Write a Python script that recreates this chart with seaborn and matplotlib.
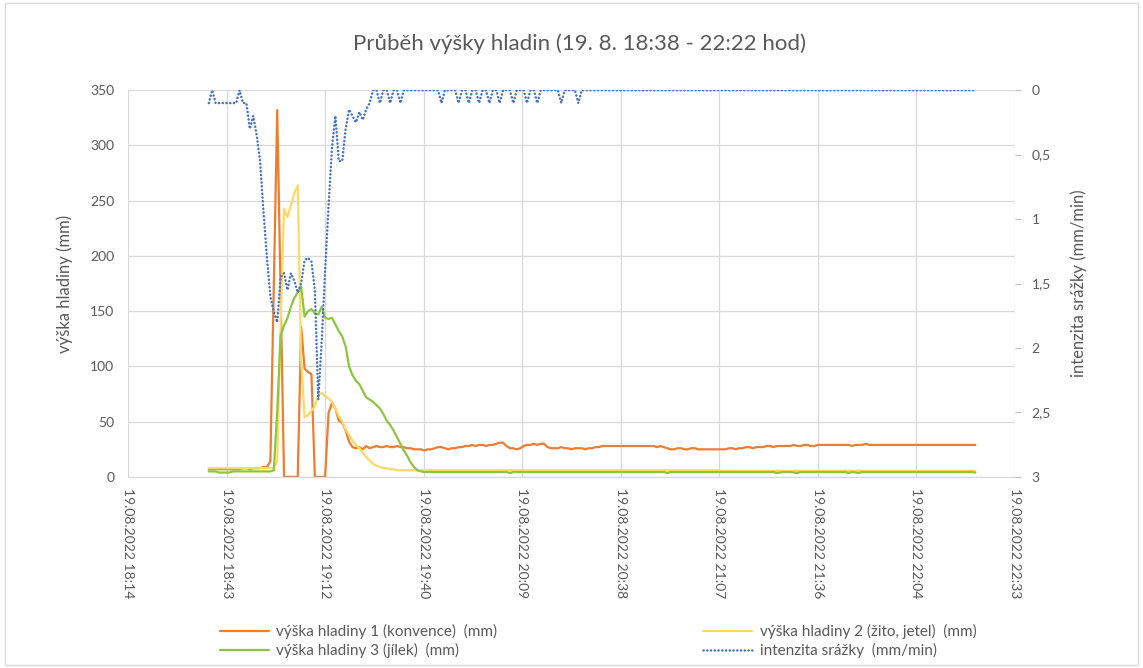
import matplotlib
matplotlib.use("Agg")
import matplotlib.pyplot as plt
from matplotlib.patches import Rectangle
import seaborn as sns
import pandas as pd

START = "2022-08-19 18:38"  # one reading per minute from here

# výška hladiny 1 (konvence), mm
level_1 = [
    7, 7, 7, 7, 7, 7, 7, 7, 7, 7, 8, 8, 7, 8, 8,
    8, 9, 9, 14, 172, 332, 165, 0, 0, 0, 0, 0, 136, 98, 95,
    93, 0, 0, 0, 0, 58, 67, 62, 51, 49, 42, 32, 27, 26, 27,
    25, 28, 26, 27, 28, 27, 27, 28, 27, 27, 28, 27, 27, 26, 26,
    25, 25, 25, 24, 25, 25, 26, 27, 27, 26, 25, 26, 26, 27, 27,
    28, 28, 29, 28, 29, 29, 28, 29, 29, 30, 31, 31, 28, 26, 26,
    25, 26, 28, 29, 29, 30, 29, 30, 30, 27, 26, 26, 26, 27, 26,
    26, 25, 26, 26, 26, 25, 26, 26, 27, 27, 28, 28, 28, 28, 28,
    28, 28, 28, 28, 28, 28, 28, 28, 28, 28, 28, 27, 28, 27, 26,
    25, 25, 26, 26, 25, 25, 26, 26, 25, 25, 25, 25, 25, 25, 25,
    25, 25, 26, 26, 25, 26, 26, 27, 27, 26, 27, 27, 27, 28, 28,
    27, 28, 28, 28, 28, 28, 29, 28, 28, 29, 29, 28, 28, 29, 29,
    29, 29, 29, 29, 29, 29, 29, 29, 28, 29, 29, 29, 30, 29, 29,
    29, 29, 29, 29, 29, 29, 29, 29, 29, 29, 29, 29, 29, 29, 29,
    29, 29, 29, 29, 29, 29, 29, 29, 29, 29, 29, 29, 29, 29, 29,
]

# výška hladiny 2 (žito, jetel), mm
level_2 = [
    8, 8, 8, 8, 8, 8, 8, 8, 8, 8, 8, 8, 8, 8, 8,
    8, 8, 8, 8, 8, 14, 140, 243, 235, 246, 257, 264, 105, 54, 56,
    60, 64, 74, 76, 73, 71, 68, 62, 55, 50, 43, 38, 33, 29, 26,
    22, 18, 15, 12, 10, 9, 8, 8, 7, 7, 6, 6, 6, 6, 6,
    6, 6, 6, 6, 6, 6, 6, 6, 6, 6, 6, 6, 6, 6, 6,
    6, 6, 6, 6, 6, 6, 6, 6, 6, 6, 6, 6, 6, 6, 6,
    6, 6, 6, 6, 6, 6, 6, 6, 6, 6, 6, 6, 6, 6, 6,
    6, 6, 6, 6, 6, 6, 6, 6, 6, 6, 6, 6, 6, 6, 6,
    6, 6, 6, 6, 6, 6, 6, 6, 6, 6, 6, 6, 6, 6, 6,
    6, 6, 6, 6, 6, 6, 6, 6, 6, 6, 6, 6, 6, 6, 6,
    5.5, 5.5, 5.5, 5.5, 5.5, 5.5, 5.5, 5.5, 5.5, 5.5, 5.5, 5.5, 5.5, 5.5, 5.5,
    5.5, 5.5, 5.5, 5.5, 5.5, 5.5, 5.5, 5.5, 5.5, 5.5, 5.5, 5.5, 5.5, 5.5, 5.5,
    5.5, 5.5, 5.5, 5.5, 5.5, 5.5, 5.5, 5.5, 5.5, 5.5, 5.5, 5.5, 5.5, 5.5, 5.5,
    5.5, 5.5, 5.5, 5.5, 5.5, 5.5, 5.5, 5.5, 5.5, 5.5, 5.5, 5.5, 5.5, 5.5, 5.5,
    5.5, 5.5, 5.5, 5.5, 5.5, 5.5, 5.5, 5.5, 5.5, 5.5, 5.5, 5.5, 5.5, 5.5, 5.5,
]

# výška hladiny 3 (jílek), mm
level_3 = [
    5, 5, 5, 4, 4, 4, 4, 5, 5, 5, 5, 5, 5, 5, 5,
    5, 5, 5, 5, 6, 60, 128, 137, 144, 154, 162, 167, 172, 145, 150,
    152, 148, 147, 154, 144, 143, 144, 138, 132, 127, 118, 100, 92, 87, 84,
    78, 72, 70, 68, 65, 62, 57, 51, 47, 42, 36, 30, 24, 19, 13,
    9, 6, 5, 4.5, 4.5, 4.5, 4.5, 4.5, 4.5, 4.5, 4.5, 4.5, 4.5, 4.5, 4.5,
    4.5, 4.5, 4.5, 4.5, 4.5, 4.5, 4.5, 4.5, 4.5, 4.5, 4.5, 4.5, 4.5, 3.5, 4.5,
    4.5, 4.5, 4.5, 4.5, 4.5, 4.5, 4.5, 4.5, 4.5, 4.5, 4.5, 4.5, 4.5, 4.5, 4.5,
    4.5, 4.5, 4.5, 4.5, 4.5, 4.5, 4.5, 4.5, 4.5, 4.5, 4.5, 4.5, 4.5, 4.5, 4.5,
    4.5, 4.5, 4.5, 4.5, 4.5, 4.5, 4.5, 4.5, 4.5, 4.5, 4.5, 4.5, 4.5, 4.5, 3.5,
    4.5, 4.5, 4.5, 4.5, 4.5, 4.5, 4.5, 4.5, 4.5, 4.5, 4.5, 4.5, 4.5, 4.5, 4.5,
    4.5, 4.5, 4.5, 4.5, 4.5, 4.5, 4.5, 4.5, 4.5, 4.5, 4.5, 4.5, 4.5, 4.5, 4.5,
    4.5, 3.5, 4, 4.5, 4.5, 4.5, 4, 3.5, 4.5, 4.5, 4.5, 4.5, 4.5, 4.5, 4.5,
    4.5, 4.5, 4.5, 4.5, 4.5, 4.5, 4.5, 3.5, 4.5, 4, 3.5, 4.5, 4.5, 4.5, 4.5,
    4.5, 4.5, 4.5, 4.5, 4.5, 4.5, 4.5, 4.5, 4.5, 4.5, 4.5, 4.5, 4.5, 4.5, 4.5,
    4.5, 4.5, 4.5, 4.5, 4.5, 4.5, 4.5, 4.5, 4.5, 4.5, 4.5, 4.5, 4.5, 4.5, 4,
]

# intenzita srážky, mm/min
rain = [
    0.1, 0, 0.1, 0.1, 0.1, 0.1, 0.1, 0.1, 0.1, 0, 0.1, 0.1, 0.3, 0.2, 0.35,
    0.55, 0.95, 1.3, 1.6, 1.72, 1.8, 1.45, 1.42, 1.55, 1.42, 1.48, 1.57, 1.5, 1.32, 1.3,
    1.33, 1.55, 2.4, 1.95, 1.4, 0.9, 0.45, 0.2, 0.55, 0.55, 0.3, 0.15, 0.2, 0.25, 0.17,
    0.23, 0.15, 0.1, 0, 0, 0.1, 0, 0, 0.1, 0, 0, 0.1, 0, 0, 0,
    0, 0, 0, 0, 0, 0, 0, 0, 0.1, 0, 0, 0, 0, 0.1, 0,
    0, 0.1, 0, 0, 0.1, 0, 0, 0.1, 0, 0, 0.1, 0, 0, 0, 0.1,
    0, 0, 0, 0.1, 0, 0, 0.1, 0, 0, 0, 0, 0, 0, 0.1, 0,
    0, 0, 0, 0.1, 0, 0, 0, 0, 0, 0, 0, 0, 0, 0, 0,
    0, 0, 0, 0, 0, 0, 0, 0, 0, 0, 0, 0, 0, 0, 0,
    0, 0, 0, 0, 0, 0, 0, 0, 0, 0, 0, 0, 0, 0, 0,
    0, 0, 0, 0, 0, 0, 0, 0, 0, 0, 0, 0, 0, 0, 0,
    0, 0, 0, 0, 0, 0, 0, 0, 0, 0, 0, 0, 0, 0, 0,
    0, 0, 0, 0, 0, 0, 0, 0, 0, 0, 0, 0, 0, 0, 0,
    0, 0, 0, 0, 0, 0, 0, 0, 0, 0, 0, 0, 0, 0, 0,
    0, 0, 0, 0, 0, 0, 0, 0, 0, 0, 0, 0, 0, 0, 0,
]

x_ticks = [
    "2022-08-19 18:14:24", "2022-08-19 18:43:12", "2022-08-19 19:12:00",
    "2022-08-19 19:40:48", "2022-08-19 20:09:36", "2022-08-19 20:38:24",
    "2022-08-19 21:07:12", "2022-08-19 21:36:00", "2022-08-19 22:04:48",
    "2022-08-19 22:33:36",
]
x_tick_labels = [
    "19.08.2022 18:14", "19.08.2022 18:43", "19.08.2022 19:12",
    "19.08.2022 19:40", "19.08.2022 20:09", "19.08.2022 20:38",
    "19.08.2022 21:07", "19.08.2022 21:36", "19.08.2022 22:04",
    "19.08.2022 22:33",
]
level_ticks = [0, 50, 100, 150, 200, 250, 300, 350]
rain_ticks = [0, 0.5, 1, 1.5, 2, 2.5, 3]
rain_tick_labels = ["0", "0,5", "1", "1,5", "2", "2,5", "3"]

LABELS = {
    "level_1": "výška hladiny 1 (konvence)  (mm)",
    "level_2": "výška hladiny 2 (žito, jetel)  (mm)",
    "level_3": "výška hladiny 3 (jílek)  (mm)",
    "rain": "intenzita srážky  (mm/min)",
}
COLORS = {
    "level_1": "#ED7D31",
    "level_2": "#FFD966",
    "level_3": "#8CC63F",
    "rain": "#4472C4",
}
TEXT = "#595959"
GRID = "#D9D9D9"


def build_frame():
    time = pd.date_range(START, periods=len(level_1), freq="1min")
    return pd.DataFrame({
        "time": time,
        "level_1": level_1,
        "level_2": level_2,
        "level_3": level_3,
        "rain": rain,
    })


def plot(df):
    sns.set_style("white")
    plt.rcParams["font.family"] = ["Lato", "DejaVu Sans"]

    fig = plt.figure(figsize=(11.43, 6.68), dpi=100)
    ax = fig.add_axes([0.112, 0.286, 0.776, 0.579])

    lines = {}
    for key in ["level_1", "level_2", "level_3"]:
        sns.lineplot(data=df, x="time", y=key, ax=ax, color=COLORS[key],
                     linewidth=1.6, label=LABELS[key])
        lines[key] = ax.get_lines()[-1]

    # rain on the secondary, inverted axis
    ax2 = ax.twinx()
    sns.lineplot(data=df, x="time", y="rain", ax=ax2, color=COLORS["rain"],
                 linewidth=1.8, label=LABELS["rain"])
    rain_line = ax2.get_lines()[-1]
    rain_line.set_linestyle((0, (0.05, 1.45)))
    rain_line.set_dash_capstyle("round")
    lines["rain"] = rain_line

    ax.get_legend().remove()
    ax2.get_legend().remove()

    ax.set_xlim(pd.Timestamp(x_ticks[0]), pd.Timestamp(x_ticks[-1]))
    ax.set_ylim(0, 350)
    ax2.set_ylim(3, 0)

    ax.set_xticks(pd.to_datetime(x_ticks))
    ax.set_xticklabels(x_tick_labels, rotation=-90, ha="center", va="top")
    ax.set_yticks(level_ticks)
    ax2.set_yticks(rain_ticks)
    ax2.set_yticklabels(rain_tick_labels)

    ax.grid(True, color=GRID, linewidth=0.9)
    ax.set_axisbelow(True)
    for s in ["top", "left", "right"]:
        ax.spines[s].set_visible(False)
    ax.spines["bottom"].set_color(GRID)
    ax.spines["bottom"].set_linewidth(0.9)
    for s in ax2.spines.values():
        s.set_visible(False)

    ax.tick_params(axis="x", length=0, pad=8, labelsize=10, labelcolor=TEXT)
    ax.tick_params(axis="y", length=0, pad=10, labelsize=10, labelcolor=TEXT)
    ax2.tick_params(axis="y", length=4, color="#BFBFBF", pad=8, labelsize=10,
                    labelcolor=TEXT)

    ax.set_xlabel("")
    ax.set_ylabel("výška hladiny (mm)", fontsize=12, color=TEXT, labelpad=12)
    ax2.set_ylabel("intenzita srážky (mm/min)", fontsize=12, color=TEXT,
                   rotation=90, labelpad=14)

    fig.text(0.507, 0.935, "Průběh výšky hladin (19. 8. 18:38 - 22:22 hod)",
             ha="center", va="center", fontsize=16, color=TEXT)

    leg_kw = dict(loc="upper left", frameon=False, fontsize=11,
                  handlelength=3.2, handletextpad=0.5, labelspacing=0.25,
                  labelcolor=TEXT, borderaxespad=0)
    fig.legend([lines["level_1"], lines["level_3"]],
               [LABELS["level_1"], LABELS["level_3"]],
               bbox_to_anchor=(0.187, 0.075), **leg_kw)
    fig.legend([lines["level_2"], lines["rain"]],
               [LABELS["level_2"], LABELS["rain"]],
               bbox_to_anchor=(0.61, 0.075), **leg_kw)

    fig.patches.append(Rectangle((0.004, 0.004), 0.992, 0.992,
                                 transform=fig.transFigure, fill=False,
                                 edgecolor=GRID, linewidth=1))

    fig.savefig("out.png", dpi=100)


def main():
    df = build_frame()
    plot(df)


if __name__ == "__main__":
    main()
